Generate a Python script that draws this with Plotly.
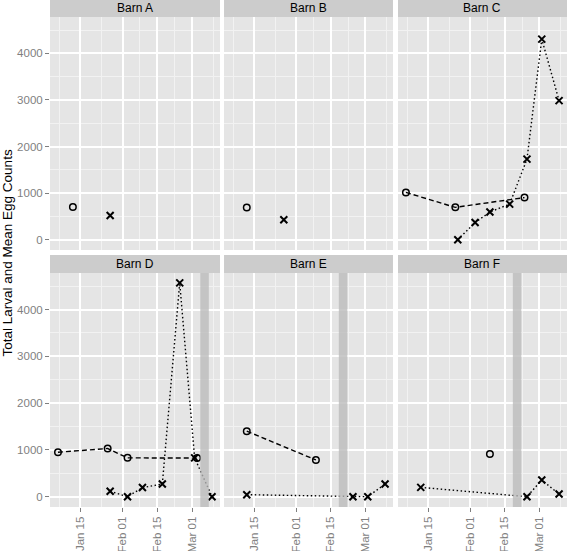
import plotly.graph_objects as go

# ---------------- data ----------------
barns = ["Barn A", "Barn B", "Barn C", "Barn D", "Barn E", "Barn F"]

egg_dates = {
    "Barn A": ["2013-01-12"],
    "Barn B": ["2013-01-12"],
    "Barn C": ["2013-01-06", "2013-01-26", "2013-02-23"],
    "Barn D": ["2013-01-06", "2013-01-26", "2013-02-03", "2013-03-03"],
    "Barn E": ["2013-01-12", "2013-02-09"],
    "Barn F": ["2013-02-09"],
}
egg_values = {
    "Barn A": [700],
    "Barn B": [690],
    "Barn C": [1015, 695, 905],
    "Barn D": [950, 1030, 830, 825],
    "Barn E": [1400, 785],
    "Barn F": [915],
}
larval_dates = {
    "Barn A": ["2013-01-27"],
    "Barn B": ["2013-01-27"],
    "Barn C": ["2013-01-27", "2013-02-03", "2013-02-09", "2013-02-17",
               "2013-02-24", "2013-03-02", "2013-03-09"],
    "Barn D": ["2013-01-27", "2013-02-03", "2013-02-09", "2013-02-17",
               "2013-02-24", "2013-03-02", "2013-03-09"],
    "Barn E": ["2013-01-12", "2013-02-24", "2013-03-02", "2013-03-09"],
    "Barn F": ["2013-01-12", "2013-02-24", "2013-03-02", "2013-03-09"],
}
larval_values = {
    "Barn A": [520],
    "Barn B": [430],
    "Barn C": [0, 370, 595, 765, 1730, 4305, 2985],
    "Barn D": [115, 0, 195, 270, 4570, 830, 0],
    "Barn E": [43, 0, 0, 272],
    "Barn F": [200, 0, 357, 57],
}
treatment_dates = {"Barn D": "2013-03-06", "Barn E": "2013-02-20", "Barn F": "2013-02-20"}

x_tickvals = ["2013-01-15", "2013-02-01", "2013-02-15", "2013-03-01"]
x_ticktext = ["Jan 15", "Feb 01", "Feb 15", "Mar 01"]
x_minorvals = ["2013-01-06 12:00", "2013-01-23 12:00", "2013-02-08", "2013-02-22", "2013-03-09 12:00"]
y_tickvals = [0, 1000, 2000, 3000, 4000]
y_minorvals = [500, 1500, 2500, 3500, 4500]

x_range = ["2013-01-02 19:00", "2013-03-12 05:00"]
y_range = [-220, 4780]

# ---------------- layout geometry ----------------
col_domains = [[0.0, 0.3288], [0.3366, 0.6634], [0.6731, 1.0]]
row_domains = [[0.5069, 0.9665], [0.0, 0.4615]]
strip_tops = [1.0, 0.4970]

GRID_MAJOR = "#FFFFFF"
GRID_MINOR = "#F2F2F2"
TICK_GREY = "#7F7F7F"
FONT = "Liberation Sans, Arial, Helvetica, sans-serif"

fig = go.Figure()
layout = dict(
    width=567, height=551,
    margin=dict(l=50, r=0, t=0, b=44),
    paper_bgcolor="white", plot_bgcolor="#E5E5E5",
    showlegend=False,
    font=dict(family=FONT, size=11, color="black"),
)
shapes = []
annotations = []

for i, barn in enumerate(barns):
    r, c = divmod(i, 3)
    n = i + 1
    xa = "x" if n == 1 else f"x{n}"
    ya = "y" if n == 1 else f"y{n}"
    xkey = "xaxis" if n == 1 else f"xaxis{n}"
    ykey = "yaxis" if n == 1 else f"yaxis{n}"

    bottom = r == 1
    left = c == 0
    layout[xkey] = dict(
        domain=col_domains[c], anchor=ya, type="date", range=x_range,
        tickmode="array", tickvals=x_tickvals, ticktext=x_ticktext,
        showticklabels=bottom, ticks="outside" if bottom else "",
        ticklen=4, tickwidth=1, tickcolor=TICK_GREY, tickangle=-90,
        tickfont=dict(family=FONT, size=11.5, color=TICK_GREY),
        showgrid=True, gridcolor=GRID_MAJOR, gridwidth=1.6,
        minor=dict(tickmode="array", tickvals=x_minorvals, showgrid=True,
                   gridcolor=GRID_MINOR, gridwidth=0.8, ticks=""),
        zeroline=False, showline=False, automargin=False, fixedrange=True,
    )
    layout[ykey] = dict(
        domain=row_domains[r], anchor=xa, range=y_range,
        tickmode="array", tickvals=y_tickvals,
        showticklabels=left, ticks="outside" if left else "",
        ticklen=4, tickwidth=1, tickcolor=TICK_GREY,
        tickfont=dict(family=FONT, size=11.5, color=TICK_GREY),
        showgrid=True, gridcolor=GRID_MAJOR, gridwidth=1.6,
        minor=dict(tickmode="array", tickvals=y_minorvals, showgrid=True,
                   gridcolor=GRID_MINOR, gridwidth=0.8, ticks=""),
        zeroline=False, showline=False, automargin=False, fixedrange=True,
    )

    # strip
    shapes.append(dict(type="rect", xref="paper", yref="paper",
                       x0=col_domains[c][0], x1=col_domains[c][1],
                       y0=row_domains[r][1], y1=strip_tops[r],
                       fillcolor="#CCCCCC", line=dict(width=0), layer="below"))
    annotations.append(dict(text=barn, xref="paper", yref="paper",
                            x=(col_domains[c][0] + col_domains[c][1]) / 2,
                            y=(row_domains[r][1] + strip_tops[r]) / 2,
                            xanchor="center", yanchor="middle", showarrow=False,
                            font=dict(family=FONT, size=12, color="black")))

    # treatment band
    if barn in treatment_dates:
        shapes.append(dict(type="line", xref=xa, yref=f"{ya} domain",
                           x0=treatment_dates[barn], x1=treatment_dates[barn],
                           y0=0, y1=1, layer="above", opacity=0.78,
                           line=dict(color="#BBBBBB", width=8.5)))

    # egg counts (circles, dashed)
    fig.add_trace(go.Scatter(
        x=egg_dates[barn], y=egg_values[barn], xaxis=xa, yaxis=ya,
        mode="lines+markers",
        line=dict(color="black", width=1.4, dash="5px,3px"),
        marker=dict(symbol="circle-open", size=6.5, color="black",
                    line=dict(width=1.5, color="black")),
        cliponaxis=False, hoverinfo="skip",
    ))
    # larval counts (crosses, dotted)
    fig.add_trace(go.Scatter(
        x=larval_dates[barn], y=larval_values[barn], xaxis=xa, yaxis=ya,
        mode="lines+markers",
        line=dict(color="black", width=1.4, dash="1.5px,2.5px"),
        marker=dict(symbol="x-thin", size=7, color="black",
                    line=dict(width=2, color="black")),
        cliponaxis=False, hoverinfo="skip",
    ))

annotations.append(dict(text="Total Larval and Mean Egg Counts", xref="paper", yref="paper",
                        x=0, y=0.5, xshift=-43, xanchor="center", yanchor="middle",
                        textangle=-90, showarrow=False,
                        font=dict(family=FONT, size=13.5, color="black")))

layout["shapes"] = shapes
layout["annotations"] = annotations
fig.update_layout(**layout)
fig.write_html(
    "out.html",
    config={"displayModeBar": False},
    post_script="document.body.style.margin='0';document.body.style.padding='0';",
)
